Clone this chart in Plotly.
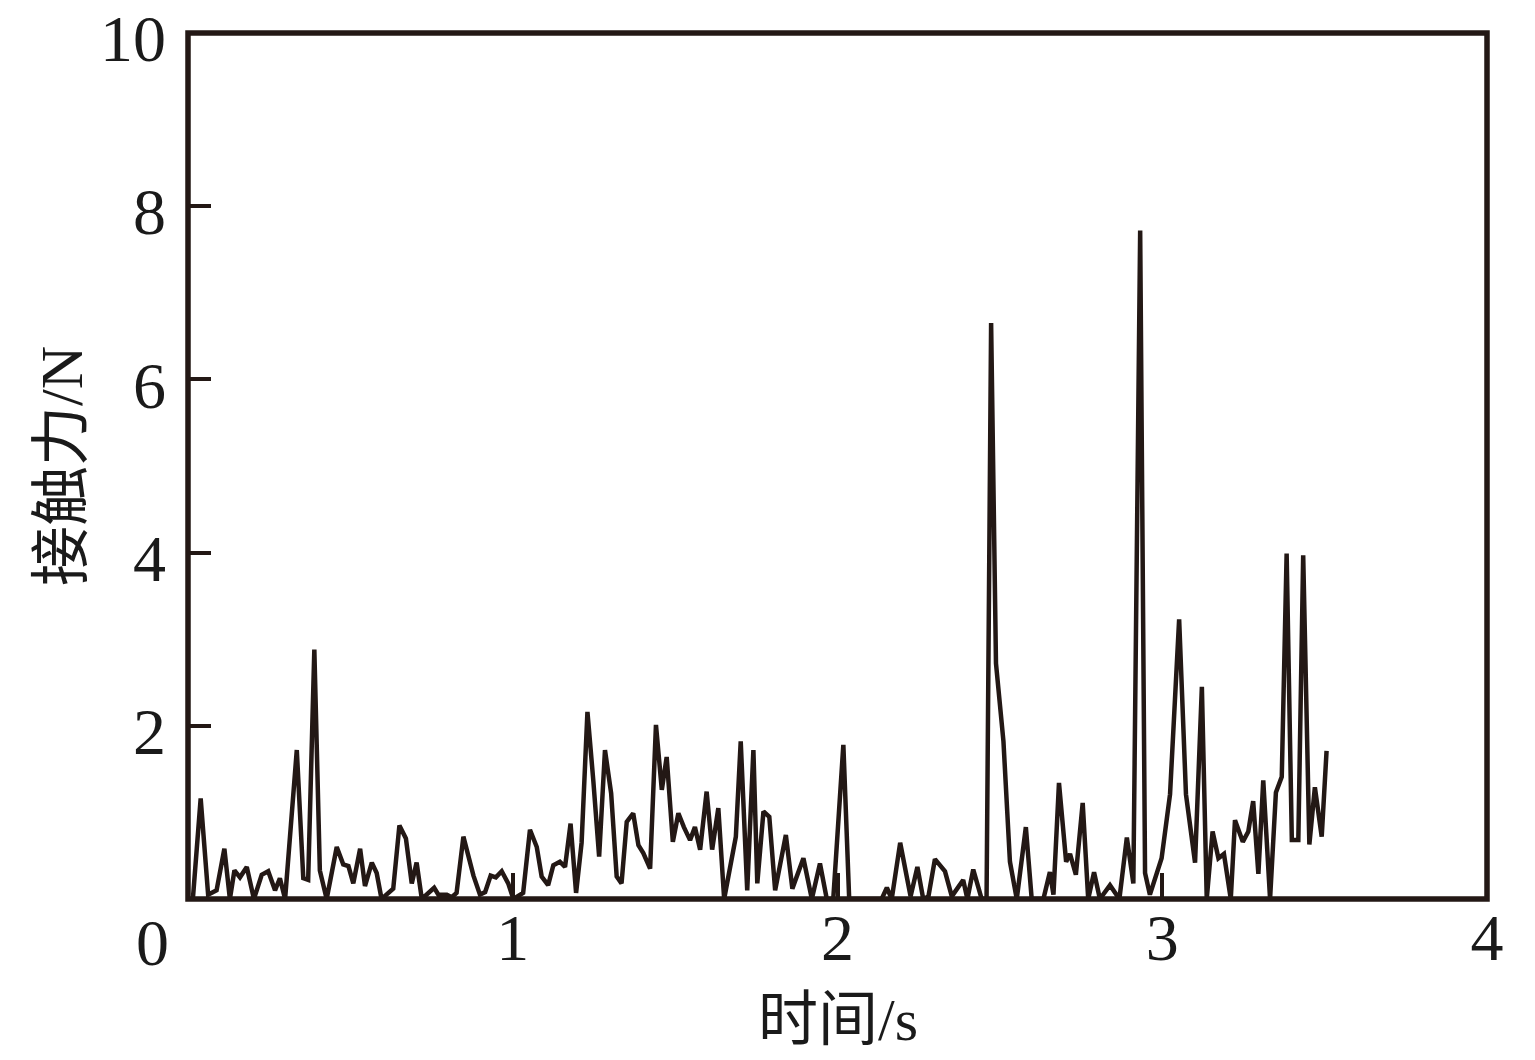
import plotly.graph_objects as go

# time (s)
time_s = [0.015, 0.039, 0.062, 0.088, 0.112, 0.129, 0.143, 0.160, 0.181, 0.203,
          0.227, 0.247, 0.268, 0.283, 0.299, 0.335, 0.355, 0.370, 0.389, 0.406,
          0.427, 0.458, 0.478, 0.494, 0.509, 0.530, 0.545, 0.566, 0.581, 0.596,
          0.632, 0.651, 0.671, 0.689, 0.704, 0.720, 0.758, 0.771, 0.797, 0.812,
          0.827, 0.848, 0.879, 0.899, 0.915, 0.932, 0.948, 0.966, 0.986, 1.002,
          1.032, 1.053, 1.074, 1.089, 1.109, 1.125, 1.145, 1.161, 1.178, 1.195,
          1.212, 1.230, 1.248, 1.266, 1.284, 1.303, 1.320, 1.335, 1.351, 1.371,
          1.387, 1.402, 1.423, 1.441, 1.459, 1.474, 1.493, 1.510, 1.527, 1.546,
          1.561, 1.577, 1.597, 1.614, 1.633, 1.651, 1.687, 1.702, 1.722, 1.741,
          1.753, 1.772, 1.790, 1.808, 1.841, 1.861, 1.895, 1.921, 1.946, 1.967,
          1.987, 2.018, 2.036, 2.136, 2.152, 2.167, 2.193, 2.225, 2.246, 2.264,
          2.280, 2.300, 2.331, 2.352, 2.387, 2.400, 2.418, 2.444, 2.459, 2.473,
          2.488, 2.511, 2.531, 2.552, 2.580, 2.598, 2.634, 2.654, 2.665, 2.682,
          2.704, 2.716, 2.734, 2.755, 2.772, 2.790, 2.808, 2.839, 2.868, 2.891,
          2.911, 2.932, 2.947, 2.962, 2.998, 3.024, 3.052, 3.073, 3.101, 3.122,
          3.137, 3.155, 3.173, 3.190, 3.211, 3.224, 3.248, 3.265, 3.280, 3.296,
          3.311, 3.332, 3.350, 3.368, 3.383, 3.399, 3.419, 3.434, 3.453, 3.470,
          3.491, 3.506]

# contact force (N)
force_n = [0.00, 1.16, 0.05, 0.10, 0.58, 0.00, 0.33, 0.25, 0.37, 0.00,
           0.28, 0.32, 0.10, 0.24, 0.00, 1.72, 0.24, 0.22, 2.88, 0.33,
           0.00, 0.60, 0.40, 0.38, 0.18, 0.58, 0.15, 0.42, 0.30, 0.00,
           0.12, 0.85, 0.70, 0.18, 0.42, 0.00, 0.13, 0.05, 0.05, 0.02,
           0.07, 0.72, 0.27, 0.05, 0.08, 0.27, 0.25, 0.32, 0.18, 0.00,
           0.07, 0.80, 0.60, 0.26, 0.16, 0.39, 0.43, 0.37, 0.87, 0.07,
           0.65, 2.16, 1.37, 0.49, 1.72, 1.22, 0.26, 0.18, 0.89, 0.99,
           0.62, 0.53, 0.35, 2.01, 1.26, 1.64, 0.66, 0.99, 0.83, 0.68,
           0.83, 0.57, 1.24, 0.57, 1.05, 0.00, 0.72, 1.82, 0.10, 1.72,
           0.18, 1.01, 0.95, 0.10, 0.74, 0.12, 0.47, 0.00, 0.41, 0.00,
           0.00, 1.78, 0.00, 0.00, 0.13, 0.00, 0.65, 0.03, 0.37, 0.00,
           0.03, 0.46, 0.32, 0.03, 0.22, 0.00, 0.34, 0.00, 0.00, 6.65,
           2.72, 1.82, 0.43, 0.00, 0.83, 0.00, 0.00, 0.31, 0.05, 1.34,
           0.43, 0.52, 0.28, 1.11, 0.00, 0.31, 0.00, 0.16, 0.00, 0.71,
           0.18, 7.72, 0.30, 0.05, 0.47, 1.21, 3.23, 1.21, 0.42, 2.45,
           0.00, 0.78, 0.47, 0.52, 0.00, 0.91, 0.66, 0.78, 1.13, 0.29,
           1.37, 0.00, 1.23, 1.41, 3.99, 0.68, 0.68, 3.97, 0.63, 1.29,
           0.72, 1.71]

x_ticks = [0, 1, 2, 3, 4]
x_labels = ["", "1", "2", "3", "4"]
y_ticks = [0, 2, 4, 6, 8, 10]
y_labels = ["", "2", "4", "6", "8", "10"]
x_title = "时间/s"
y_title = "接触力/N"

ink = "#231815"
text_col = "#1a1a1a"
font_family = "Liberation Serif, Times New Roman, Noto Sans CJK SC, serif"

# page has an 8px body margin; plot area in page coords: 188..1487 x 33..899
BODY = 8
W, H = 1535 - 2 * BODY, 1060 - 2 * BODY
PL, PT, pw, ph = 188, 33, 1299, 866
L, T = PL - BODY, PT - BODY
R, B = W - L - pw, H - T - ph


def px_x(xp):
    return (xp - PL) / pw


def px_y(yp):
    return (PT + ph - yp) / ph


fig = go.Figure()
fig.add_trace(go.Scatter(
    x=time_s, y=force_n, mode="lines",
    line=dict(color=ink, width=4.5),
    showlegend=False,
))

axis_common = dict(
    showgrid=False, zeroline=False, showline=False, automargin=False,
    ticks="inside", tickcolor=ink, tickwidth=4, ticklabeloverflow="allow",
    tickfont=dict(family=font_family, size=66, color=text_col),
)

fig.update_layout(
    width=W, height=H,
    margin=dict(l=L, r=R, t=T, b=B),
    paper_bgcolor="white", plot_bgcolor="white",
    font=dict(family=font_family, color=text_col),
    xaxis=dict(
        range=[0, 4], tickmode="array", tickvals=x_ticks, ticktext=x_labels,
        ticklen=26, ticklabelstandoff=-6,
        **axis_common,
    ),
    yaxis=dict(
        range=[0, 10], tickmode="array", tickvals=y_ticks, ticktext=y_labels,
        ticklen=23, ticklabelstandoff=21, ticklabelshift=5,
        **axis_common,
    ),
    shapes=[dict(
        type="rect", xref="paper", yref="paper", x0=0, x1=1, y0=0, y1=1,
        line=dict(color=ink, width=5.5), layer="above",
    )],
    annotations=[
        dict(text="0", xref="paper", yref="paper",
             x=px_x(152), y=px_y(942),
             xanchor="center", yanchor="middle", showarrow=False,
             font=dict(family=font_family, size=66, color=text_col)),
        dict(text=x_title, xref="paper", yref="paper",
             x=0.5, y=px_y(1020),
             xanchor="center", yanchor="middle", showarrow=False,
             font=dict(family=font_family, size=60, color=text_col)),
        dict(text=y_title, xref="paper", yref="paper",
             x=px_x(62), y=0.5, textangle=-90,
             xanchor="center", yanchor="middle", showarrow=False,
             font=dict(family=font_family, size=60, color=text_col)),
    ],
)

fig.write_html("out.html")
